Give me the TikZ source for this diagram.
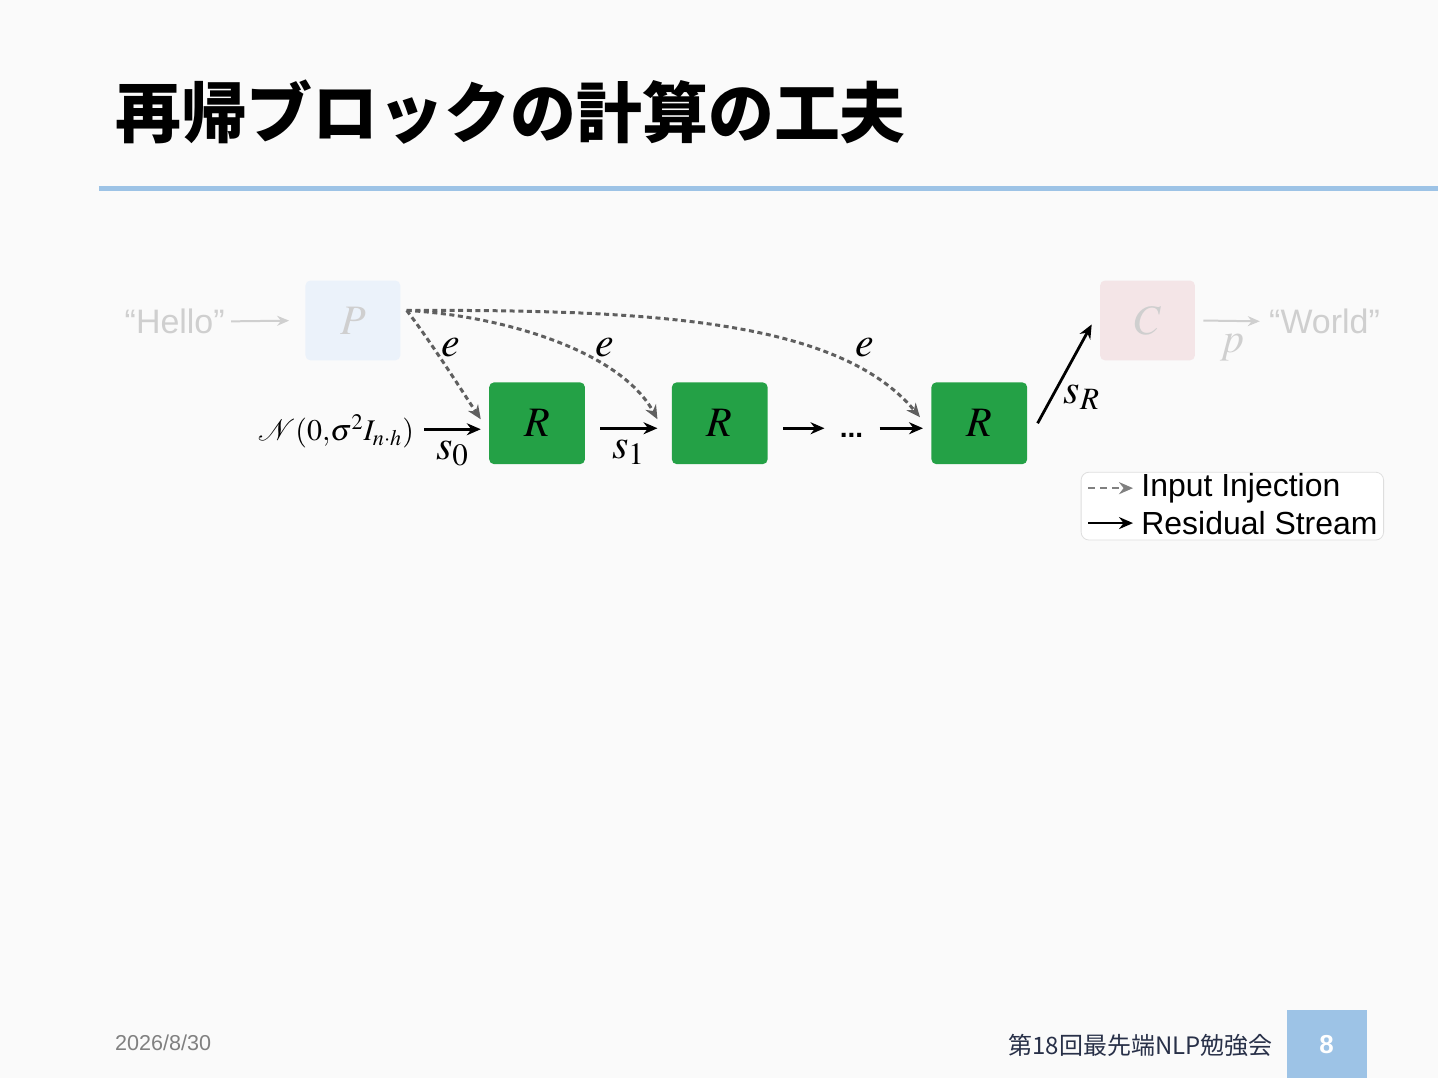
\documentclass[tikz,border=0pt]{standalone}
\usepackage{mathptmx}
\usepackage{fontspec}
\setmainfont{Liberation Sans}
\newfontfamily\cjk{Noto Sans CJK JP}
\usetikzlibrary{arrows.meta}
\definecolor{slidebg}{RGB}{250,250,250}
\definecolor{barblue}{RGB}{157,195,230}
\definecolor{rgreen}{RGB}{36,161,70}
\definecolor{pfill}{RGB}{235,242,250}
\definecolor{cfill}{RGB}{244,229,231}
\definecolor{faded}{RGB}{207,207,207}
\definecolor{injgray}{RGB}{95,95,95}
\definecolor{datecol}{RGB}{128,128,128}
\definecolor{footcol}{RGB}{40,48,72}
\definecolor{legline}{RGB}{222,222,222}
\begin{document}
\begin{tikzpicture}[x=0.5pt,y=-0.5pt,
  block/.style={rounded corners=2.5pt,minimum width=48pt,minimum height=41pt,inner sep=0pt},
  res/.style={-{Stealth[length=7pt,width=6pt]},line width=1.4pt},
  inject/.style={-{Stealth[length=7pt,width=6pt]},line width=1.5pt,draw=injgray,dash pattern=on 2.5pt off 1.8pt},
  faint/.style={-{Stealth[length=6pt,width=5pt]},line width=1pt,draw=faded},
  mathlbl/.style={font=\fontsize{21}{25}\selectfont}]
\fill[slidebg] (0,0) rectangle (1440,1080);
% title
\node[anchor=base west,inner sep=0pt,font=\cjk\bfseries\fontsize{33}{38}\selectfont] (title) at (115,138) {再帰ブロックの計算の工夫};
\draw[barblue,line width=2.5pt] (99,189) -- (1440,189);
% prelude / coda
\node[inner sep=0pt,text=faded,font=\fontsize{17}{20}\selectfont] (hello) at (175,322) {“Hello”};
\node[block,fill=pfill,minimum width=47.5pt,minimum height=40pt,text=faded,mathlbl] (p) at (353.5,321) {$P$};
\node[block,fill=cfill,minimum width=47.5pt,minimum height=40pt,text=faded,mathlbl] (c) at (1149.5,321) {$C$};
\node[anchor=west,inner sep=0pt,text=faded,font=\fontsize{17}{20}\selectfont] (world) at (1271,322) {“World”};
\draw[faint,shorten <=3pt,shorten >=8pt] (hello.east) -- (p.west);
\draw[faint,shorten <=4pt,shorten >=4.5pt] (c.east) -- node[below,text=faded,mathlbl,inner sep=6pt] (plbl) {$p$} (world.west);
% recurrent blocks
\node[block,fill=rgreen,mathlbl] (r1) at (538,424) {$R$};
\node[block,fill=rgreen,mathlbl] (r2) at (721,424) {$R$};
\node[block,fill=rgreen,mathlbl] (r3) at (981,424) {$R$};
\node[anchor=east,inner sep=1pt,font=\fontsize{15}{18}\selectfont] (noise) at (417,432) {$\mathcal{N}(0,\!\sigma^2 I_{n\cdot h})$};
\node[inner sep=0pt,font=\bfseries\fontsize{14}{16}\selectfont] (dots) at (853,436) {...};
\draw[res,shorten <=4pt,shorten >=4pt] ([yshift=1pt]noise.east) -- node[below,mathlbl,inner sep=5pt] (s0) {$s_0$} ([yshift=1pt]noise.east -| r1.west);
\draw[res,shorten <=7.5pt,shorten >=7pt] ([yshift=-2.5pt]r1.east) -- node[below,mathlbl,inner sep=5pt] (s1) {$s_1$} ([yshift=-2.5pt]r2.west);
\draw[res,shorten <=7.5pt,shorten >=7.5pt] ([yshift=-2.5pt]r2.east) -- ([yshift=-2.5pt]r2.east -| dots.west);
\draw[res,shorten <=8pt,shorten >=4pt] ([yshift=-2.5pt]r3.west -| dots.east) -- ([yshift=-2.5pt]r3.west);
\draw[res] ([xshift=5pt]r3.east) -- node[pos=0.42,below right,mathlbl,inner sep=1pt] (sr) {$s_R$} ([xshift=-4pt,yshift=-2pt]c.west);
% input injection
\coordinate (inj) at ([xshift=3pt,yshift=5pt]p.east);
\draw[inject] (inj) .. controls (430,340) and (465,395) .. ([xshift=-4pt,yshift=2pt]r1.west);
\draw[inject] (inj) .. controls (500,316) and (620,350) .. ([xshift=-7pt,yshift=2pt]r2.west);
\draw[inject] (inj) .. controls (650,310) and (840,320) .. ([xshift=-5.5pt,yshift=3pt]r3.west);
\begin{scope}[mathlbl]
  \node (e1) at (452,348) {$e$};\node (e2) at (606,348) {$e$};\node (e3) at (866,348) {$e$};
\end{scope}
% legend
\node[draw=legline,fill=white,rounded corners=4pt,minimum width=151.5pt,minimum height=34pt] (legend) at (1234.5,507) {};
\node[anchor=west,inner sep=0pt,font=\fontsize{16}{19}\selectfont] (lin) at (1143,489) {Input Injection};
\node[anchor=west,inner sep=0pt,font=\fontsize{16}{19}\selectfont] (lres) at (1143,524) {Residual Stream};
\draw[inject,draw=gray,line width=1.3pt,dash pattern=on 3.5pt off 2.5pt] ([xshift=-26.5pt]lin.west) -- ([xshift=-4pt]lin.west);
\draw[res] ([xshift=-26.5pt]lres.west) -- ([xshift=-4pt]lres.west);
% footer
\node[anchor=west,inner sep=0pt,text=datecol,font=\fontsize{10.8}{13}\selectfont] (date) at (115,1045) {2026/8/30};
\node[anchor=east,inner sep=0pt,text=footcol,font=\cjk\fontsize{12}{15}\selectfont] (event) at (1275,1047) {第18回最先端NLP勉強会};
\node[fill=barblue,minimum width=40pt,minimum height=34pt,inner sep=0pt,text=white,font=\bfseries\fontsize{13}{16}\selectfont] (pnum) at (1329,1046) {8};
\end{tikzpicture}
\end{document}
